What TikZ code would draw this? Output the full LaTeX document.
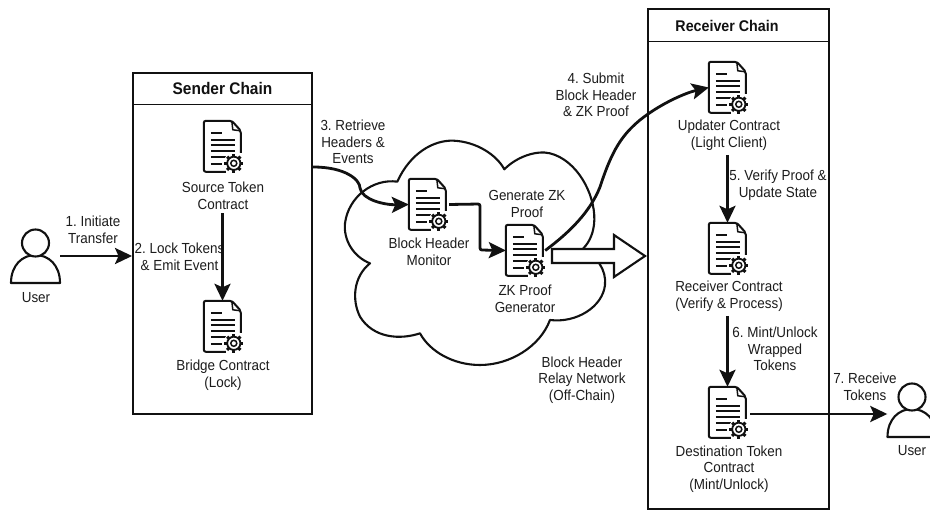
\documentclass[tikz,border=0pt]{standalone}
\usepackage{fontspec}
\setmainfont[FakeStretch=0.92]{Liberation Sans}
\usetikzlibrary{arrows.meta}
\definecolor{ink}{HTML}{111111}
\definecolor{txt}{HTML}{1c1c1c}
\frenchspacing
\tikzset{
  x=1pt,y=-1pt,
  lbl/.style={inner sep=0pt,align=center,text=txt,font=\fontsize{14.6}{16.7}\selectfont},
  ttl/.style={draw=ink,line width=1.9pt,minimum height=32pt,inner sep=0pt,text=ink,font=\fontsize{16.8}{18}\selectfont\bfseries},
  chainbody/.style={draw=ink,line width=1.9pt,inner sep=0pt},
  docnode/.style={inner sep=0pt,minimum width=37pt,minimum height=51pt},
  usernode/.style={inner sep=0pt,minimum width=49pt,minimum height=54pt},
  conn/.style={draw=ink,line width=2.8pt,-{Stealth[length=17pt,width=16pt,inset=3.5pt]}},
  docicon/.pic={
    \draw[ink,line width=2pt,rounded corners=2pt,line join=round] (22,51) -- (0,51) -- (0,0) -- (28,0) -- (37,10) -- (37,32);
    \draw[ink,line width=1.5pt,line join=round] (28,0) -- (29,9) -- (37,10);
    \draw[ink,line width=2pt] (7,12) -- (18,12) (7,19) -- (31,19) (7,24.5) -- (31,24.5) (7,30) -- (31,30) (7,36) -- (22,36) (7,43) -- (18,43);
    \fill[white] (30,42.5) circle (10.5);
    \draw[ink,line width=1.8pt] (30,42.5) circle (6.6);
    \draw[ink,line width=1.5pt] (30,42.5) circle (3);
    \foreach \a in {0,45,...,315}{\draw[ink,line width=3pt] (30,42.5) ++(\a:6.2) -- ++(\a:3.2);}
  },
  personicon/.pic={
    \draw[ink,line width=2.1pt,fill=white,line join=round] (-24.5,27) .. controls (-24.5,9) and (-13,-1) .. (0,-1) .. controls (13,-1) and (24.5,9) .. (24.5,27) -- cycle;
    \draw[ink,line width=2.1pt,fill=white] (0,-13) circle (13.5);
  }
}
\begin{document}
\begin{tikzpicture}
\useasboundingbox (0,0) rectangle (930,510);
\clip (0,0) rectangle (930,510);
\fill[white] (0,0) rectangle (930,510);
% chain boxes
\node[chainbody,minimum width=179pt,minimum height=341pt] (sender) at (222.5,243.5) {};
\node[ttl,minimum width=179pt] (senderT) at (222.5,88.5) {Sender Chain};
\node[chainbody,minimum width=181pt,minimum height=500pt] (receiver) at (738.5,259) {};
\node[ttl,minimum width=181pt] (receiverT) at (738.5,25.5) {\hspace{-23pt}\fontsize{15.5}{18}\selectfont Receiver Chain};
% cloud
\begin{scope}[shift={(310,100)},scale=1/3]
\draw[ink,line width=2.1pt,line join=round,fill=white]
 (262,245) .. controls (300,160) and (370,120) .. (430,122) .. controls (500,125) and (560,165) .. (583,208)
 .. controls (620,170) and (680,150) .. (720,160) .. controls (800,180) and (855,280) .. (853,360) .. controls (852,395) and (840,425) .. (820,445)
 .. controls (860,470) and (890,510) .. (885,555) .. controls (878,620) and (800,670) .. (720,660)
 .. controls (690,740) and (600,795) .. (510,795) .. controls (430,795) and (360,755) .. (330,700)
 .. controls (270,720) and (190,715) .. (150,650) .. controls (125,600) and (130,530) .. (180,490)
 .. controls (130,470) and (100,420) .. (105,370) .. controls (115,290) and (190,235) .. (262,245) -- cycle;
\end{scope}
% block arrow
\draw[ink,line width=2.1pt,fill=white,line join=miter] (552,249) -- (614,249) -- (614,235) -- (645,256) -- (614,277) -- (614,263) -- (552,263) -- cycle;
% icons
\node[docnode] (src) at (222.5,146.5) {};
\node[docnode] (bridge) at (222.5,326.5) {};
\node[docnode] (mon) at (427.5,204.5) {};
\node[docnode] (zk) at (524.5,250.5) {};
\node[docnode] (upd) at (727.5,87.5) {};
\node[docnode] (rcv) at (727.5,248.5) {};
\node[docnode] (dest) at (727.5,412.5) {};
\foreach \n in {src,bridge,mon,zk,upd,rcv,dest}{\pic at (\n.north west) {docicon};}
\node[usernode] (userL) at (35.5,256) {};
\node[usernode] (userR) at (912,410) {};
\pic at (userL.center) {personicon};
\pic at (userR.center) {personicon};
% labels
\node[lbl] (srcL) at (223,195.5) {Source Token\\Contract};
\node[lbl] (bridgeL) at (223,375) {Bridge Contract\\(Lock)};
\node[lbl] (monL) at (429,251.5) {Block Header\\Monitor};
\node[lbl] (genL) at (527,204) {Generate ZK\\Proof};
\node[lbl] (zkL) at (525,298.5) {ZK Proof\\Generator};
\node[lbl] (netL) at (582,380) {Block Header\\Relay Network\\(Off-Chain)};
\node[lbl] (updL) at (729,135.5) {Updater Contract\\(Light Client)};
\node[lbl] (rcvL) at (729,296.5) {Receiver Contract\\(Verify \& Process)};
\node[lbl] (destL) at (729,469) {Destination Token\\Contract\\(Mint/Unlock)};
\node[lbl] (userLL) at (36,298) {User};
\node[lbl] (userRL) at (912,451) {User};
\node[lbl] (s1) at (93,230) {1. Initiate\\Transfer};
\node[lbl] (s2) at (179.5,257) {2. Lock Tokens\\\& Emit Event};
\node[lbl] (s3) at (353,142) {3. Retrieve\\Headers \&\\Events};
\node[lbl] (s4) at (596,95) {4. Submit\\Block Header\\\& ZK Proof};
\node[lbl] (s5) at (778,185) {5. Verify Proof \&\\Update State};
\node[lbl] (s6) at (775,349) {6. Mint/Unlock\\Wrapped\\Tokens};
\node[lbl] (s7) at (865,387) {7. Receive\\Tokens};
% connectors
\draw[conn] (userL.east) -- (sender.west |- userL.east);
\draw[conn,shorten <=4pt] (srcL.south -| bridge.north) -- (bridge.north);
\draw[conn] ([yshift=76.5pt]sender.east) .. controls +(33,0) and (360,180) .. (360,188) .. controls (362,200) and (385,205) .. (mon.west);
\draw[conn,rounded corners=2pt] ([xshift=3pt]mon.east) -- (480,204) -- (480,250) -- (zk.west);
\draw[conn] ([xshift=2pt]zk.east) .. controls (570,232) and (590,212) .. (600,187) .. controls (612,150) and (622,135) .. (640,120) .. controls (660,104) and (685,93) .. (upd.west);
\draw[conn,shorten <=4pt] (updL.south -| rcv.north) -- (rcv.north);
\draw[conn,shorten <=4pt] (rcvL.south -| dest.north) -- (dest.north);
\draw[conn] ([xshift=4pt,yshift=-1.5pt]dest.east) -- ([yshift=-1.5pt]dest.east -| userR.west);
\end{tikzpicture}
\end{document}
